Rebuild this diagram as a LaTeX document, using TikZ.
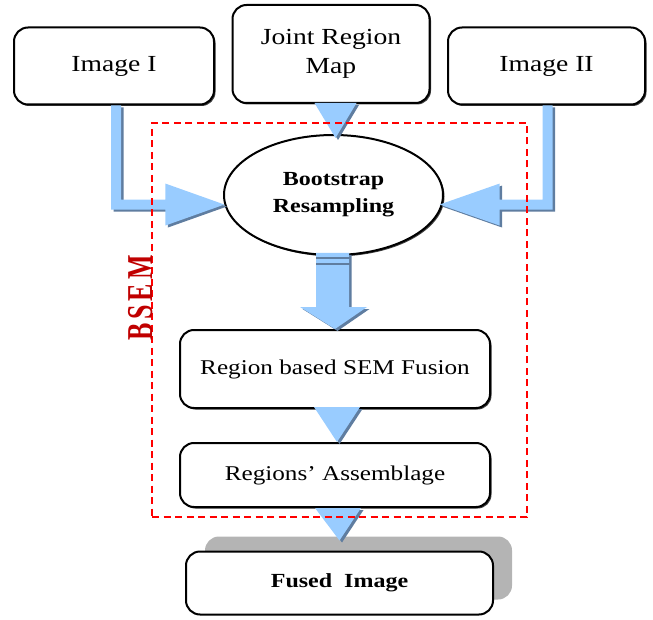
\documentclass[tikz,border=0pt]{standalone}
\usepackage{fontspec}
\setmainfont{Liberation Serif}[FakeStretch=1.2]
\newfontfamily\bsemfont{Liberation Serif}
\usetikzlibrary{shapes.geometric,shadows,calc}
\definecolor{arrowblue}{RGB}{153,204,255}
\definecolor{arrowdark}{RGB}{95,125,160}
\definecolor{bsemred}{RGB}{192,0,0}
\definecolor{shadowgray}{RGB}{180,180,180}

\begin{document}
\begin{tikzpicture}[x=1pt, y=-1pt,
    boxbase/.style={rectangle, draw=black, line width=2pt, fill=white, rounded corners=14pt, inner sep=2pt},
    edgeshadow/.style={drop shadow={shadow xshift=1.5pt, shadow yshift=-1.5pt, fill=black!75, opacity=1}},
    box/.style={boxbase, edgeshadow},
    topfont/.style={font=\fontsize{23}{29}\selectfont},
    midfont/.style={font=\fontsize{21}{25}\selectfont},
    boldfont/.style={font=\fontsize{20}{27}\selectfont\bfseries},
    fatarrow/.style={fill=arrowblue, drop shadow={shadow xshift=2.5pt, shadow yshift=-2pt, fill=arrowdark, opacity=1}}
]
    \useasboundingbox (0,0) rectangle (653,620);

    % inputs
    \node[box, topfont, minimum width=200, minimum height=77] (img1) at (114,66) {Image I};
    \node[box, topfont, minimum width=197, minimum height=98, align=center] (jrm) at (331,54) {Joint Region\\Map};
    \node[box, topfont, minimum width=197, minimum height=77] (img2) at (546.5,66) {Image II};

    % bootstrap and fusion steps
    \node[ellipse, draw=black, line width=2pt, fill=white, edgeshadow, minimum width=219, minimum height=120, align=center, boldfont] (boot) at (333.5,195) {Bootstrap\\Resampling};
    \node[box, midfont, minimum width=310, minimum height=78] (fusion) at (335,369) {Region based SEM Fusion};
    \node[box, midfont, minimum width=310, minimum height=64] (assem) at (335,475) {Regions' Assemblage};
    \node[boxbase, boldfont, minimum width=307, minimum height=63,
        drop shadow={shadow xshift=19pt, shadow yshift=15pt, fill=shadowgray, opacity=1}] (fused) at (339.5,583) {Fused\ \ Image};

    % fat arrows
    \coordinate (ltip) at (boot.185);
    \coordinate (rtip) at ($(boot.355)+(-3,0)$);
    \fill[fatarrow] ($(img1.south)+(-3,0)$) |- ($(ltip)+(-59,5)$) -- ++(0,16) -- (ltip)
        -- ++(-59,-21) -- ++(0,16) -| ($(img1.south)+(7,0)$) -- cycle;
    \fill[fatarrow] ($(img2.south)+(6,0)$) |- ($(rtip)+(60,5)$) -- ++(0,16) -- (rtip)
        -- ++(60,-21) -- ++(0,16) -| ($(img2.south)+(-4,0)$) -- cycle;
    \fill[fatarrow] ($(boot.north)+(-19,-31)$) -- ($(boot.north)+(23,-31)$) -- ($(boot.north)+(2,4)$) -- cycle;
    \fill[fatarrow] ($(fusion.north)+(-19,-76)$) -- ($(fusion.north)+(-19,-22)$) -- ++(-16,0) -- (fusion.north)
        -- ($(fusion.north)+(32,-22)$) -- ++(-18,0) -- ++(0,-54) -- cycle;
    \draw[arrowdark, line width=1.5pt] ($(fusion.north)+(-19,-71)$) -- ++(35,0);
    \draw[arrowdark, line width=1.5pt] ($(fusion.north)+(-19,-65)$) -- ++(35,0);
    \fill[fatarrow] ($(assem.north)+(-21,-35)$) -- ($(assem.north)+(25,-35)$) -- ($(assem.north)+(2,0)$) -- cycle;
    \fill[fatarrow] ($(assem.south)+(-20,0)$) -- ($(assem.south)+(26,0)$) -- ($(fused.north)+(0,-10)$) -- cycle;

    % BSEM frame
    \node[draw=red, line width=1.5pt, dash pattern=on 7pt off 4.5pt, minimum width=375, minimum height=394] (bsembox) at (339.5,320) {};
    \node[rotate=90, text=bsemred, font=\fontsize{26}{26}\bsemfont\bfseries] (bsemlabel) at (141,298)
        {\scalebox{1}[1.4]{B\kern4pt S\kern4pt E\kern4pt M}};
\end{tikzpicture}
\end{document}
